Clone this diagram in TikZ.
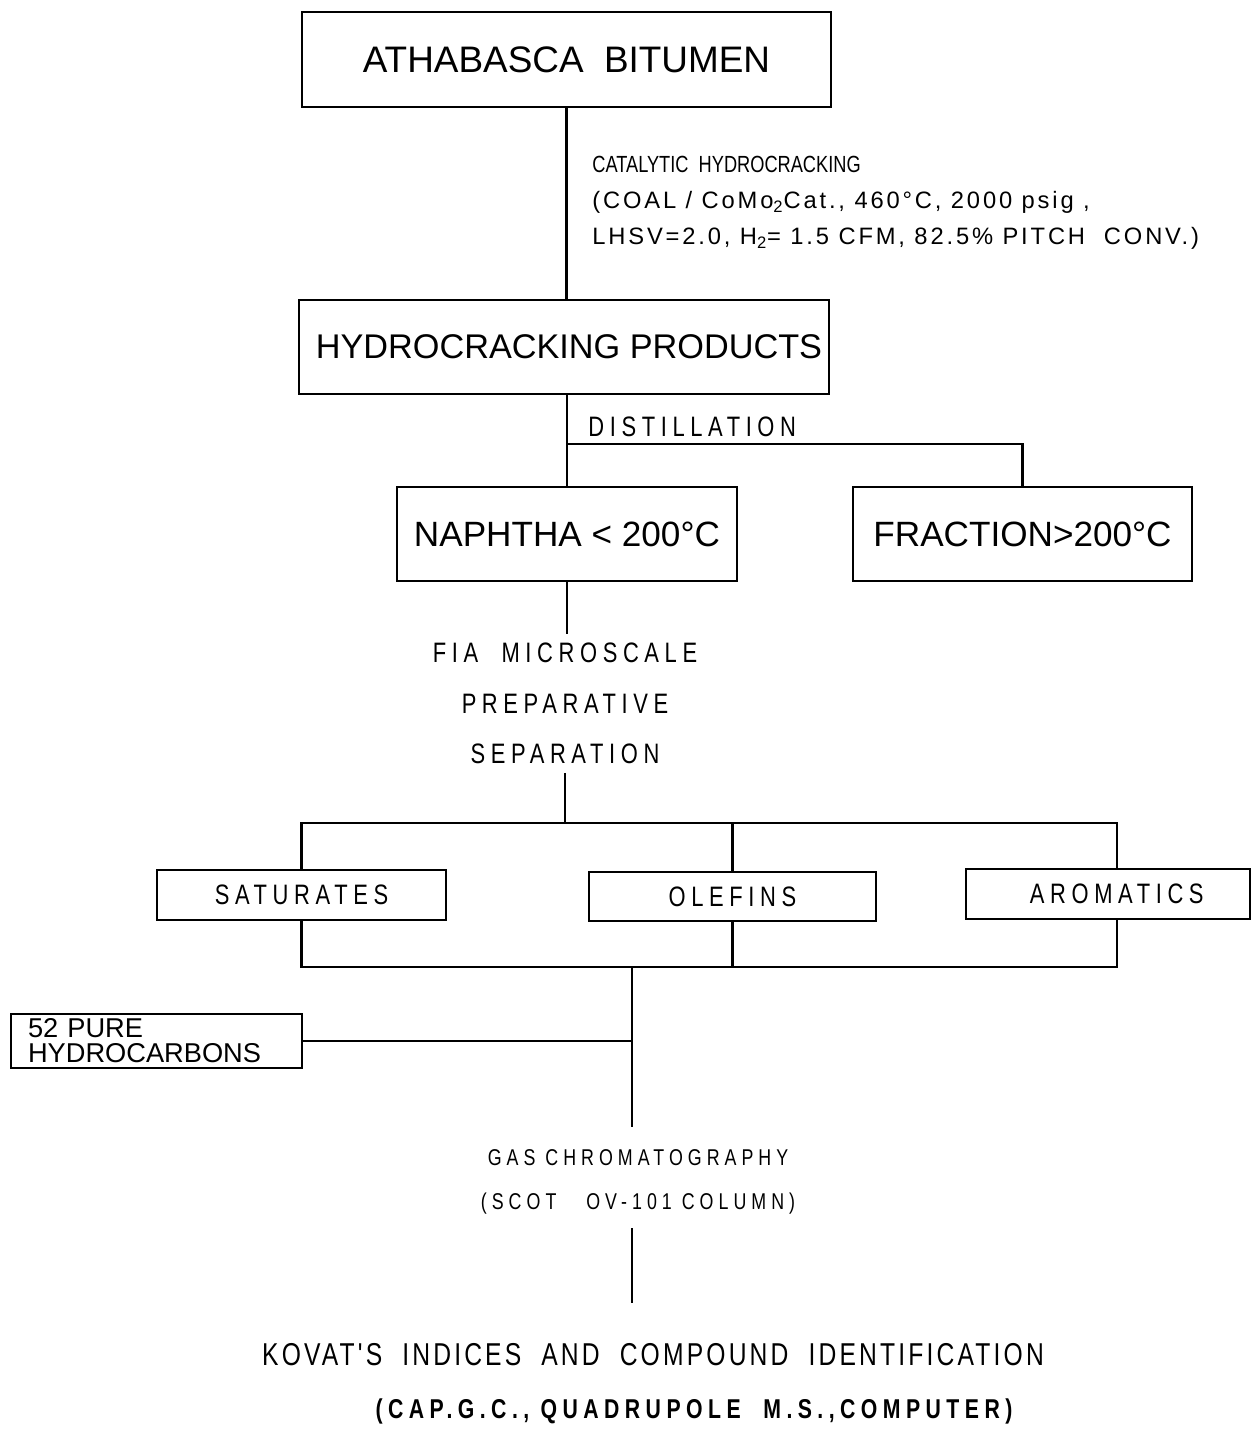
\documentclass[tikz,border=0pt]{standalone}
\usepackage{fontspec}
\setmainfont{Liberation Sans}
\newfontfamily\catfont[FakeStretch=0.78]{Liberation Sans}
\newfontfamily\condfont[LetterSpace=12]{Liberation Sans}
\newfontfamily\sepfont[FakeStretch=0.78,LetterSpace=20]{Liberation Sans}
\newfontfamily\gasfont[FakeStretch=0.78,LetterSpace=22]{Liberation Sans}
\newfontfamily\kovfont[FakeStretch=0.78,LetterSpace=10]{Liberation Sans}
\usetikzlibrary{positioning}

\tikzset{
  box/.style={draw, line width=1.2pt, inner sep=0pt, font=\fontsize{20}{24}\selectfont},
  smallbox/.style={draw, line width=1.2pt, inner sep=0pt, font=\sepfont\fontsize{16}{19}\selectfont},
  link/.style={line width=1.2pt},
}

\begin{document}
\begin{tikzpicture}[x=0.02cm, y=-0.02cm]
    \useasboundingbox (0,0) rectangle (1251,1431);

    % feed and products
    \node[box, minimum width=10.58cm, minimum height=1.9cm, font=\fontsize{21}{24}\selectfont] (bit) at (566.5,59.5) {ATHABASCA\ \ BITUMEN};
    \node[box, minimum width=10.6cm, minimum height=1.88cm, font=\fontsize{19.5}{24}\selectfont] (hcp) at (564,347) {\hspace{0.2cm}HYDROCRACKING PRODUCTS};
    \node[anchor=north west, align=left, inner sep=0pt, font=\catfont\fontsize{13.3}{20.5}\selectfont] (cat) at (592,156)
        {CATALYTIC\ \ HYDROCRACKING\\
         {\condfont\fontsize{13.5}{20.5}\selectfont (COAL / CoMo\textsubscript{2}Cat., 460°C, 2000 psig ,}\\
         {\condfont\fontsize{13.5}{20.5}\selectfont LHSV=2.0, H\textsubscript{2}= 1.5 CFM, 82.5\% PITCH\ \ CONV.)}};
    \draw[link] (bit.south) -- (bit.south |- hcp.north);

    % distillation
    \node[box, minimum width=6.8cm, minimum height=1.88cm] (nap) at (567,534) {NAPHTHA {<} 200°C};
    \node[box, minimum width=6.78cm, minimum height=1.88cm] (frac) at (1022.5,534) {FRACTION>200°C};
    \node[anchor=base west, inner sep=0pt, font=\sepfont\fontsize{16}{18}\selectfont] (dist) at (588,436) {DISTILLATION};
    \coordinate (dj) at (567,444);
    \draw[link] (nap.north |- hcp.south) -- (nap.north);
    \draw[link] (dj) -| (frac.north);

    % FIA separation
    \node[anchor=north, align=center, inner xsep=0pt, inner ysep=0.18cm, font=\sepfont\fontsize{16}{28.5}\selectfont] (fia) at (565,634)
        {FIA\ \ MICROSCALE\\ PREPARATIVE\\ SEPARATION};
    \draw[link] (nap.south) -- (nap.south |- fia.north);
    \coordinate (sj) at (565,823);
    \coordinate (ar) at (1117,823);
    \draw[link] (fia.south) -- (sj);

    \node[smallbox, minimum width=5.78cm, minimum height=1cm] (sat) at (301.5,895) {SATURATES};
    \node[smallbox, minimum width=5.74cm, minimum height=0.98cm] (ole) at (732.5,896.5) {OLEFINS};
    \node[smallbox, minimum width=5.68cm, minimum height=1cm] (aro) at (1108,894) {\hspace{0.35cm}AROMATICS};
    \draw[link] (sat.north) |- (ar) -- (ar |- aro.north);
    \draw[link] (ole.north) -- (ole.north |- sj);

    % recombined fractions
    \coordinate (mj) at (632,967);
    \coordinate (ab) at (1117,967);
    \draw[link] (sat.south) |- (ab) -- (ab |- aro.south);
    \draw[link] (ole.south) -- (ole.south |- mj);

    \node[draw, line width=1.2pt, minimum width=5.82cm, minimum height=1.08cm, text width=5.14cm, align=left, inner sep=0pt,
          font=\fontsize{15.5}{14.2}\selectfont] (pure) at (156.5,1041) {52 PURE\\HYDROCARBONS};

    % GC and identification
    \node[anchor=north, align=center, inner sep=0pt, font=\gasfont\fontsize{13}{25}\selectfont] (gas) at (638,1149)
        {GAS CHROMATOGRAPHY\\(SCOT\ \ \ OV-101 COLUMN)};
    \coordinate (gt) at (632,1127);
    \coordinate (gb) at (632,1228);
    \coordinate (kt) at (632,1303);
    \draw[link] (mj) -- (gt);
    \draw[link] (pure.east) -- (pure.east -| mj);
    \draw[link] (gb) -- (kt);

    \node[anchor=base, inner sep=0pt, font=\kovfont\fontsize{18}{20}\selectfont] (kov) at (653,1365)
        {KOVAT'S\ \ INDICES\ \ AND\ \ COMPOUND\ \ IDENTIFICATION};
    \node[anchor=base, inner sep=0pt, font=\sepfont\bfseries\fontsize{15.5}{17}\selectfont] (capgc) at (694,1418)
        {(CAP.G.C., QUADRUPOLE\ \ M.S.,COMPUTER)};
\end{tikzpicture}
\end{document}
